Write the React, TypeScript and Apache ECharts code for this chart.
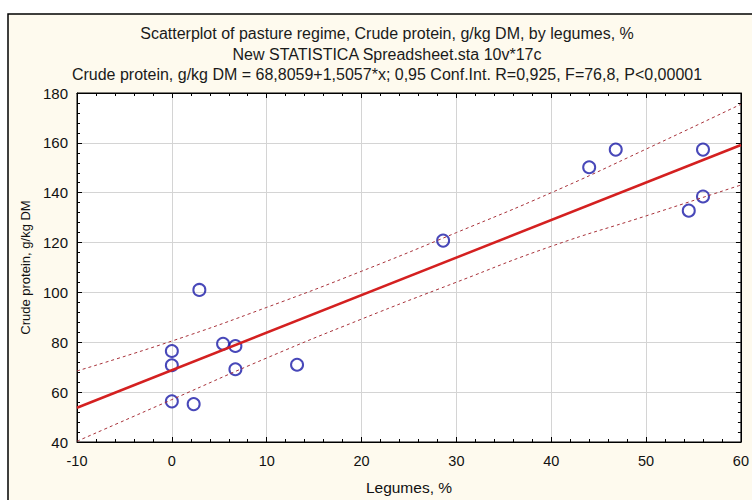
import React, { useEffect, useRef } from "react";
import * as echarts from "echarts";

const titleLines = [
  "Scatterplot of pasture regime, Crude protein, g/kg DM, by legumes, %",
  "New STATISTICA Spreadsheet.sta 10v*17c",
  "Crude protein, g/kg DM = 68,8059+1,5057*x; 0,95 Conf.Int. R=0,925, F=76,8, P<0,00001",
];
const xName = "Legumes, %";
const yName = "Crude protein, g/kg DM";

const legumes = [0, 0, 0, 2.3, 2.9, 5.4, 6.7, 6.7, 13.2, 28.6, 44.0, 46.8, 54.5, 56.0, 56.0];
const protein = [76.5, 70.8, 56.3, 55.2, 101.0, 79.4, 78.5, 69.2, 71.0, 120.8, 150.2, 157.3, 132.8, 157.3, 138.5];

const fitX = [-10, 60];
const fitY = [53.75, 159.15];

const bandX = [-10, 0, 10, 20, 30, 40, 50, 60];
const bandUpper = [68.5, 80.5, 94.0, 108.5, 124.0, 140.0, 157.5, 175.5];
const bandLower = [40.3, 57.0, 73.7, 89.3, 104.1, 118.5, 130.7, 143.1];

const FONT = "Liberation Sans, Arial, sans-serif";

export default function App() {
  const ref = useRef<HTMLDivElement>(null);
  useEffect(() => {
    if (!ref.current) return;
    const chart = echarts.init(ref.current, undefined, { renderer: "svg" });
    const axisLine = { show: true, onZero: false, lineStyle: { color: "#000", width: 1 } };
    const axisTick = { show: true, inside: true, length: 5, lineStyle: { color: "#000" } };
    const minorTick = { show: true, splitNumber: 5, length: 3, lineStyle: { color: "#000" } };
    chart.setOption({
      animation: false,
      backgroundColor: "#ffffff",
      graphic: [
        {
          type: "rect",
          shape: { x: 8, y: 14, width: 800, height: 520 },
          style: { fill: "#fefaee", stroke: "#000", lineWidth: 1.5 },
          z: -10,
          silent: true,
        },
        ...titleLines.map((t, i) => ({
          type: "text",
          x: 387,
          y: 33.5 + i * 20.5,
          style: {
            text: t,
            fill: "#1a1a1a",
            font: `16px ${FONT}`,
            textAlign: "center",
            textVerticalAlign: "middle",
          },
        })),
      ],
      grid: {
        left: 77,
        top: 93,
        width: 668,
        height: 357,
        show: true,
        backgroundColor: "#ffffff",
        borderColor: "#000",
        borderWidth: 1,
      },
      xAxis: [
        {
          type: "value",
          min: -10,
          max: 60,
          interval: 10,
          position: "bottom",
          axisLine,
          axisTick,
          minorTick,
          axisLabel: { color: "#111", fontSize: 14.5, fontFamily: FONT, margin: 11 },
          splitLine: { show: true, lineStyle: { color: "#d4d4d4", width: 1 } },
          name: xName,
          nameLocation: "middle",
          nameGap: 37,
          nameTextStyle: { color: "#111", fontSize: 15.5, fontFamily: FONT },
        },
        {
          type: "value",
          min: -10,
          max: 60,
          interval: 10,
          position: "top",
          axisLine,
          axisTick,
          minorTick,
          axisLabel: { show: false },
          splitLine: { show: false },
        },
      ],
      yAxis: [
        {
          type: "value",
          min: 40,
          max: 180,
          interval: 20,
          position: "left",
          axisLine,
          axisTick,
          minorTick,
          axisLabel: { color: "#111", fontSize: 15, fontFamily: FONT, margin: 9 },
          splitLine: { show: true, lineStyle: { color: "#d4d4d4", width: 1 } },
          name: yName,
          nameLocation: "middle",
          nameGap: 45,
          nameTextStyle: { color: "#111", fontSize: 13, fontFamily: FONT },
        },
        {
          type: "value",
          min: 40,
          max: 180,
          interval: 20,
          position: "right",
          axisLine,
          axisTick,
          minorTick,
          axisLabel: { show: false },
          splitLine: { show: false },
        },
      ],
      series: [
        {
          type: "line",
          data: bandX.map((x, i) => [x, bandUpper[i]]),
          smooth: true,
          symbol: "none",
          lineStyle: { color: "#a8323a", width: 1, type: [3, 3] },
          silent: true,
        },
        {
          type: "line",
          data: bandX.map((x, i) => [x, bandLower[i]]),
          smooth: true,
          symbol: "none",
          lineStyle: { color: "#a8323a", width: 1, type: [3, 3] },
          silent: true,
        },
        {
          type: "line",
          data: fitX.map((x, i) => [x, fitY[i]]),
          symbol: "none",
          lineStyle: { color: "#d42020", width: 2.5 },
          silent: true,
        },
        {
          type: "scatter",
          data: legumes.map((x, i) => [x, protein[i]]),
          symbol: "circle",
          symbolSize: 12,
          itemStyle: { color: "rgba(0,0,0,0)", borderColor: "#1a1aa8", borderWidth: 2 },
        },
      ],
    });
    return () => chart.dispose();
  }, []);
  return (
    <div
      ref={ref}
      style={{ position: "absolute", left: 0, top: 0, width: 752, height: 500 }}
    />
  );
}
